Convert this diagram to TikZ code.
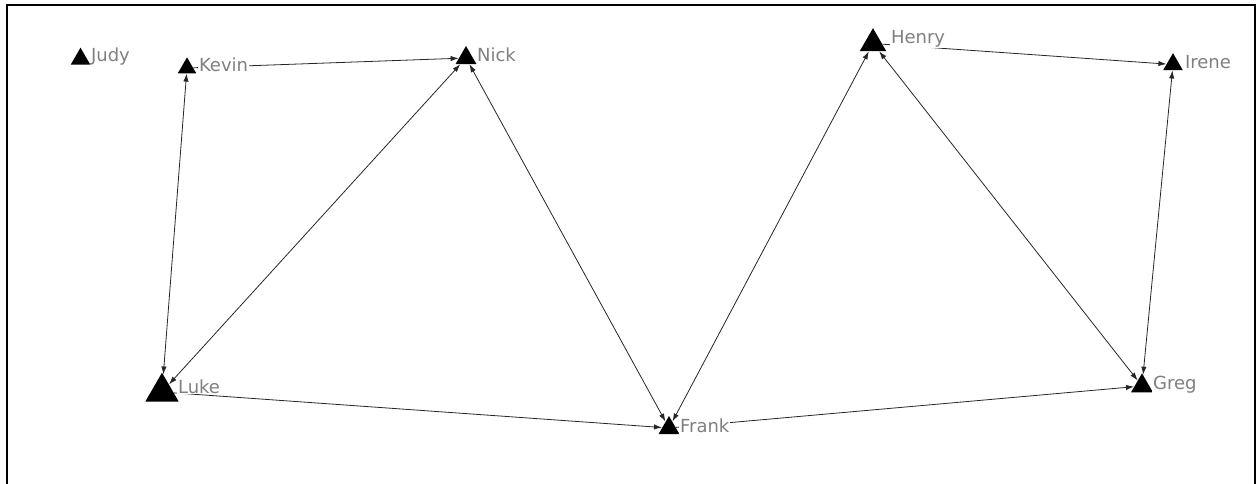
\documentclass[tikz,border=0pt]{standalone}
\usepackage{fontspec}
\setmainfont{DejaVu Sans}
\usetikzlibrary{shapes.geometric,arrows.meta}
\definecolor{lblgray}{RGB}{128,128,128}
\tikzset{
  actor/.style={regular polygon, regular polygon sides=3, fill=black, draw=none, inner sep=0pt, minimum size=#1},
  lbl/.style={anchor=base west, inner sep=0.6pt, fill=white, text=lblgray, font=\fontsize{13.5}{14}\selectfont},
  tie/.style={draw=black!85, line width=0.6pt},
  tip/.style={-{Latex[length=6pt,width=4pt]}},
  tips/.style={{Latex[length=6pt,width=4pt]}-{Latex[length=6pt,width=4pt]}},
  frame/.style={draw=black, line width=1.5pt}
}
\begin{document}
\begin{tikzpicture}[x=0.75pt,y=-0.75pt]
\useasboundingbox (0,0) rectangle (1257,483);
\draw[frame] (7,5) -- (1255,5);
\draw[frame] (7,4.3) -- (7,490);
\draw[frame] (1255,4.3) -- (1255,490);
% actors
\node[actor=17pt] (judy)  at (80.5,59) {};
\node[actor=16pt] (kevin) at (187,68) {};
\node[actor=18pt] (nick)  at (466,58) {};
\node[actor=23pt] (henry) at (873,43.5) {};
\node[actor=17pt] (irene) at (1173,64.5) {};
\node[actor=29pt] (luke)  at (162,392) {};
\node[actor=18pt] (frank) at (669,428) {};
\node[actor=19pt] (greg)  at (1142,386) {};
% ties
\draw[tie,tip]  (kevin) -- (nick);
\draw[tie,tips] (kevin) -- (luke);
\draw[tie,tips] (luke) -- (nick);
\draw[tie,tips] (nick) -- (frank);
\draw[tie,tip]  (luke) -- (frank);
\draw[tie,tips] (frank) -- (henry);
\draw[tie,tip]  (frank) -- (greg);
\draw[tie,tips] (henry) -- (greg);
\draw[tie,tip]  (henry) -- (irene);
\draw[tie,tips] (greg) -- (irene);
% labels
\node[lbl] (judyl)  at (90,61.5) {Judy};
\node[lbl] (kevinl) at (198,71.5) {Kevin};
\node[lbl] (nickl)  at (476,61.5) {Nick};
\node[lbl] (henryl) at (890,43.5) {Henry};
\node[lbl] (irenel) at (1184,68.3) {Irene};
\node[lbl] (lukel)  at (177,393.3) {Luke};
\node[lbl] (frankl) at (679,432.7) {Frank};
\node[lbl] (gregl)  at (1152,389.3) {Greg};
\end{tikzpicture}
\end{document}
